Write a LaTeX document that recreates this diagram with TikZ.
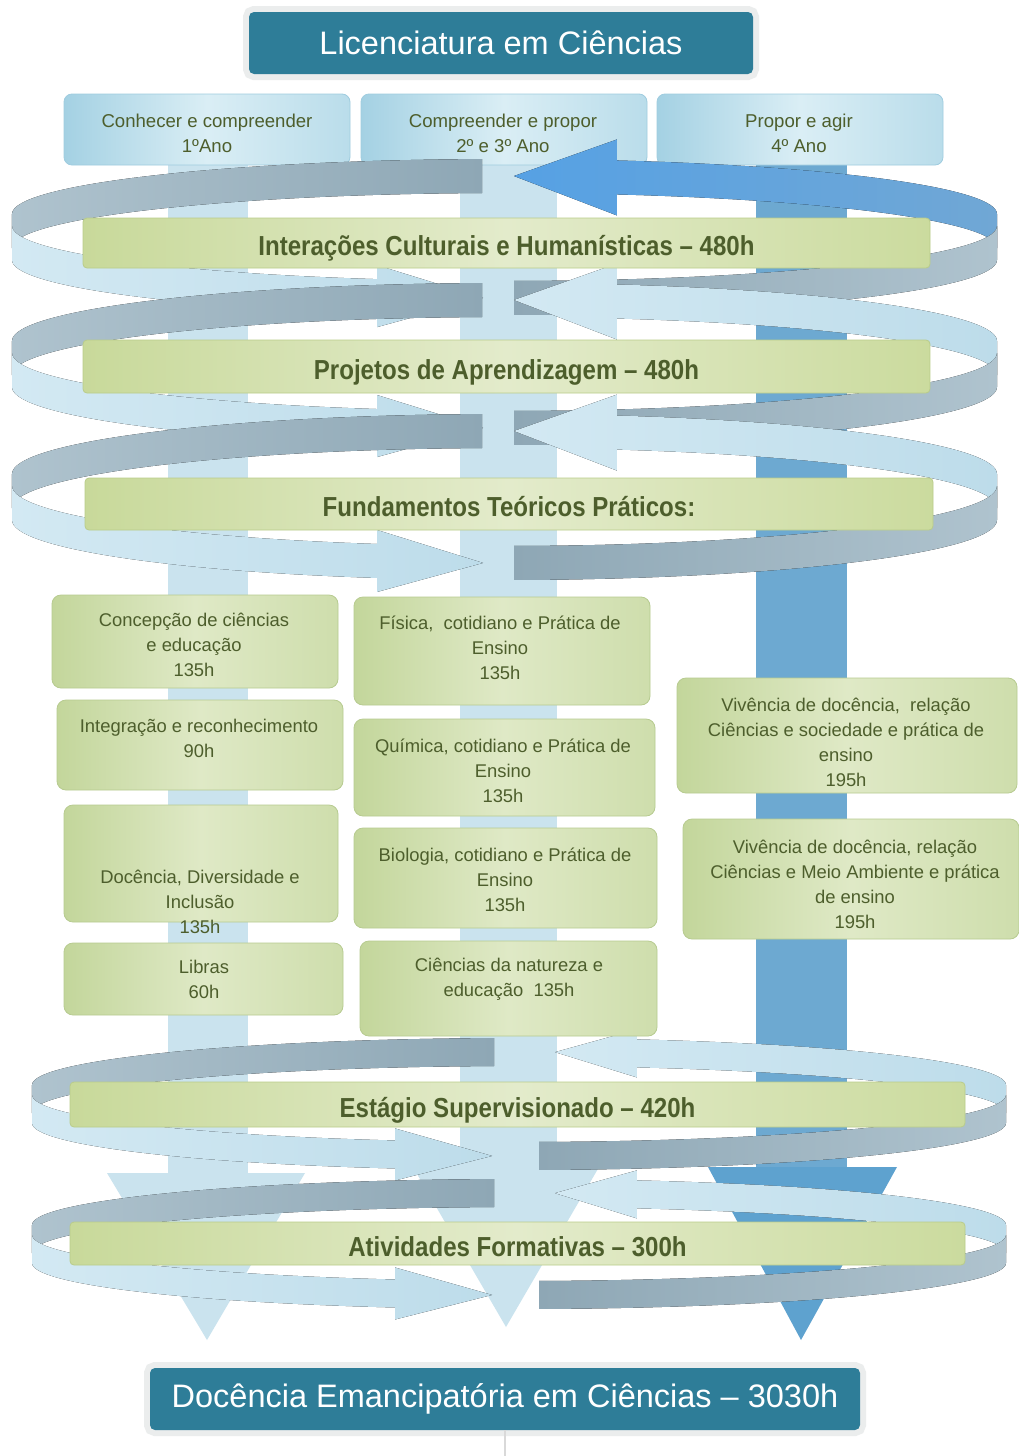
\documentclass[tikz,border=0pt]{standalone}
\usepackage{fontspec}
\setmainfont{Liberation Sans}
\newfontfamily\barfont[FakeStretch=0.875]{Liberation Sans Bold}
\definecolor{titleblue}{HTML}{2E7D98}
\definecolor{txtgreen}{HTML}{4D5E2C}
\definecolor{colA}{HTML}{CAE3EE}
\definecolor{colC}{HTML}{6DA9D1}
\definecolor{colChead}{HTML}{5EA2CF}
\definecolor{grayD}{HTML}{8EA7B5}
\definecolor{grayL}{HTML}{AFC3CE}
\definecolor{lbL}{HTML}{D3E9F3}
\definecolor{lbD}{HTML}{BDDCEA}
\definecolor{blueA}{HTML}{56A1E4}
\definecolor{blueB}{HTML}{70A7D5}
\definecolor{barL}{HTML}{C8D99A}
\definecolor{barM}{HTML}{E3EBCB}
\definecolor{barR}{HTML}{CBDB9E}
\definecolor{barE}{HTML}{B9CC8A}
\definecolor{boxL}{HTML}{C3D69B}
\definecolor{boxM}{HTML}{DFE9C6}
\definecolor{boxE}{HTML}{B7CB90}
\definecolor{hdL}{HTML}{A4D1E3}
\definecolor{hdM}{HTML}{DAEEF5}
\definecolor{hdE}{HTML}{9FCCDF}
\definecolor{glow}{HTML}{EBEDED}

% one ring of the spiral: #1 = top centre row, #2 = bottom centre row, #3 = style of back-right arrow
\newcommand\spiralloop[3]{%
\pgfmathsetmacro\spmB{(#1+#2)/2-\zzdel}%
\pgfmathsetmacro\spmF{(#1+#2)/2+\zzdel}%
\pgfmathsetmacro\spb{(#2-#1)/2-\zzdel}%
\pgfmathsetmacro\sphw{\zzw/2}%
\pgfmathsetmacro\spaTL{180+acos(\zzgTL/\zza)}%
\pgfmathsetmacro\spaTR{360-acos((\zzgTR+\zzhlT)/\zza)}%
\pgfmathsetmacro\spaTRt{360-acos(\zzgTR/\zza)}%
\pgfmathsetmacro\spaBL{180-acos((\zzgBL+\zzhlB)/\zza)}%
\pgfmathsetmacro\spaBLt{180-acos(\zzgBL/\zza)}%
\pgfmathsetmacro\spaBR{acos(\zzgBR/\zza)}%
\pgfmathsetmacro\spxTR{\zzcx+\zza*cos(\spaTR)}%
\pgfmathsetmacro\spyTR{\spmB+\spb*sin(\spaTR)}%
\pgfmathsetmacro\spxTRt{\zzcx+\zzgTR}%
\pgfmathsetmacro\spyTRt{\spmB+\spb*sin(\spaTRt)}%
\pgfmathsetmacro\spxBL{\zzcx+\zza*cos(\spaBL)}%
\pgfmathsetmacro\spyBL{\spmF+\spb*sin(\spaBL)}%
\pgfmathsetmacro\spxBLt{\zzcx-\zzgBL}%
\pgfmathsetmacro\spyBLt{\spmF+\spb*sin(\spaBLt)}%
\pgfmathsetmacro\spyTLs{\spmB+\spb*sin(\spaTL)-\sphw}%
\pgfmathsetmacro\spyBRs{\spmF+\spb*sin(\spaBR)-\sphw}%
% back, upper left (grey)
\fill[grayTL] ({\zzcx-\zzgTL},\spyTLs) arc[start angle=\spaTL,end angle=180,x radius=\zza,y radius=\spb] -- ++(0,\zzw) arc[start angle=180,end angle=\spaTL,x radius=\zza,y radius=\spb] -- cycle;
% back, upper right (arrow pointing left)
\fill[#3] ({\zzcx+\zza},{\spmB-\sphw}) arc[start angle=360,end angle=\spaTR,x radius=\zza,y radius=\spb] -- (\spxTR,{\spyTR-\zzhhT}) -- (\spxTRt,\spyTRt) -- (\spxTR,{\spyTR+\zzhhT}) -- (\spxTR,{\spyTR+\sphw}) arc[start angle=\spaTR,end angle=360,x radius=\zza,y radius=\spb] -- cycle;
% front, lower right (grey)
\fill[grayBR] ({\zzcx+\zzgBR},\spyBRs) arc[start angle=\spaBR,end angle=0,x radius=\zza,y radius=\spb] -- ++(0,\zzw) arc[start angle=0,end angle=\spaBR,x radius=\zza,y radius=\spb] -- cycle;
% front, lower left (arrow pointing right)
\fill[lbBL] ({\zzcx-\zza},{\spmF-\sphw}) arc[start angle=180,end angle=\spaBL,x radius=\zza,y radius=\spb] -- (\spxBL,{\spyBL-\zzhhB}) -- (\spxBLt,\spyBLt) -- (\spxBL,{\spyBL+\zzhhB}) -- (\spxBL,{\spyBL+\sphw}) arc[start angle=\spaBL,end angle=180,x radius=\zza,y radius=\spb] -- cycle;
}

\begin{document}
\begin{tikzpicture}[x=1pt,y=-1pt,
  grayTL/.style={left color=grayL,right color=grayD},
  grayBR/.style={left color=grayD,right color=grayL},
  lbBL/.style={left color=lbL,right color=lbD},
  lbTR/.style={left color=lbL,right color=lbD},
  blueTR/.style={left color=blueA,right color=blueB},
  titlebox/.style={rectangle,rounded corners=5pt,fill=titleblue,inner sep=0pt,
     preaction={draw=glow,line width=12pt},
     font=\fontsize{32.5}{36}\selectfont,text=white},
  hdbox/.style={rectangle,rounded corners=8pt,draw=hdE,line width=0.8pt,
     left color=hdL,right color=hdL!60!hdM,middle color=hdM,inner sep=0pt,
     minimum width=286,minimum height=71},
  bar/.style={rectangle,rounded corners=4pt,draw=barE,line width=0.8pt,
     left color=barL,right color=barR,middle color=barM,inner sep=0pt,
     text height=27pt,text depth=2pt,
     font=\barfont\fontsize{27.5}{30}\selectfont,text=txtgreen},
  subbox/.style={rectangle,rounded corners=9pt,draw=boxE,line width=0.8pt,
     left color=boxL,right color=boxL!60!boxM,middle color=boxM,inner sep=0pt},
  txt/.style={font=\fontsize{18.4}{25}\selectfont,text=txtgreen,align=center,inner sep=0pt}
]
\useasboundingbox[fill=white] (0,0) rectangle (1019,1456);

% vertical columns (year streams)
\fill[colA] (168,165) rectangle (248,1173);
\fill[colA] (107,1173) -- (305,1173) -- (207,1340) -- cycle;
\fill[colA] (460,158) rectangle (557,1155);
\fill[colA] (406,1155) -- (606,1155) -- (506,1327) -- cycle;
\fill[colC] (756,165) rectangle (847,1167);
\fill[colChead] (708,1167) -- (897,1167) -- (801,1340) -- cycle;

% year headers
\node[hdbox] (h1) at (207,129.5) {};
\node[hdbox] (h2) at (504,129.5) {};
\node[hdbox] (h3) at (800,129.5) {};
\node[txt,font=\fontsize{18.6}{25}\selectfont] (h1t) at (207,133) {Conhecer e compreender\\1ºAno};
\node[txt,font=\fontsize{18.6}{25}\selectfont] (h2t) at (503,133) {Compreender e propor\\2º e 3º Ano};
\node[txt,font=\fontsize{18.6}{25}\selectfont] (h3t) at (799,133) {Propor e agir\\4º Ano};

% upper spiral rings
\def\zzcx{504.5}\def\zza{492.5}\def\zzw{34}\def\zzdel{6}
\def\zzgTL{22.5}\def\zzgTR{9.5}\def\zzhlT{103}\def\zzhhT{38}
\def\zzgBL{21.5}\def\zzhlB{106}\def\zzhhB{31}\def\zzgBR{9.5}
\spiralloop{176}{298}{blueTR}
\spiralloop{300}{428}{lbTR}
\spiralloop{431}{563}{lbTR}

% lower spiral rings
\def\zzcx{519}\def\zza{487}\def\zzw{28}\def\zzdel{5}
\def\zzgTL{25}\def\zzgTR{36}\def\zzhlT{82}\def\zzhhT{24}
\def\zzgBL{27}\def\zzhlB{97}\def\zzhhB{26}\def\zzgBR{20}
\spiralloop{1052}{1156}{lbTR}
\spiralloop{1193}{1295}{lbTR}

% bars
\node[bar,minimum width=847,minimum height=50] (b1) at (506.5,243) {Interações Culturais e Humanísticas – 480h};
\node[bar,minimum width=847,minimum height=53] (b2) at (506.5,366.5) {Projetos de Aprendizagem – 480h};
\node[bar,minimum width=848,minimum height=52] (b3) at (509,504) {Fundamentos Teóricos Práticos:};
\node[bar,minimum width=895,minimum height=45] (b4) at (517.5,1104.5) {Estágio Supervisionado – 420h};
\node[bar,minimum width=895,minimum height=43] (b5) at (517.5,1243.5) {Atividades Formativas – 300h};

% course boxes, column 1
\node[subbox,minimum width=286,minimum height=93] (s1) at (195,641.5) {};
\node[txt] (s1t) at (194,645) {Concepção de ciências\\e educação\\135h};
\node[subbox,minimum width=286,minimum height=90] (s2) at (200,745) {};
\node[txt] (s2t) at (199,738.5) {Integração e reconhecimento\\90h};
\node[subbox,minimum width=274,minimum height=117] (s3) at (201,863.5) {};
\node[txt] (s3t) at (200,902) {Docência, Diversidade e\\Inclusão\\135h};
\node[subbox,minimum width=279,minimum height=72] (s4) at (203.5,979) {};
\node[txt] (s4t) at (204,979.5) {Libras\\60h};
% column 2
\node[subbox,minimum width=296,minimum height=108] (s5) at (502,651) {};
\node[txt] (s5t) at (500,648) {Física,\ \ cotidiano e Prática de\\Ensino\\135h};
\node[subbox,minimum width=301,minimum height=97] (s6) at (504.5,767.5) {};
\node[txt] (s6t) at (503,771) {Química, cotidiano e Prática de\\Ensino\\135h};
\node[subbox,minimum width=303,minimum height=100] (s7) at (505.5,878) {};
\node[txt] (s7t) at (505,880) {Biologia, cotidiano e Prática de\\Ensino\\135h};
\node[subbox,minimum width=297,minimum height=95] (s8) at (508.5,988.5) {};
\node[txt] (s8t) at (509,979.5) {Ciências da natureza e\\educação\ \ 135h};
% column 3
\node[subbox,minimum width=340,minimum height=115] (s9) at (847,735.5) {};
\node[txt] (s9t) at (846,742.5) {Vivência de docência,\ \ relação\\Ciências e sociedade e prática de\\ensino\\195h};
\node[subbox,minimum width=336,minimum height=120] (s10) at (851,879) {};
\node[txt] (s10t) at (855,884) {Vivência de docência, relação\\Ciências e Meio Ambiente e prática\\de ensino\\195h};

% titles
\node[titlebox,minimum width=504,minimum height=62] (top) at (501,43) {Licenciatura em Ciências};
\node[titlebox,minimum width=710,minimum height=62] (final) at (505,1399) {Docência Emancipatória em Ciências – 3030h};
\coordinate (tail) at (505,1456);
\draw[black!15,line width=1.5pt] (final.south) -- (tail);
\end{tikzpicture}
\end{document}
